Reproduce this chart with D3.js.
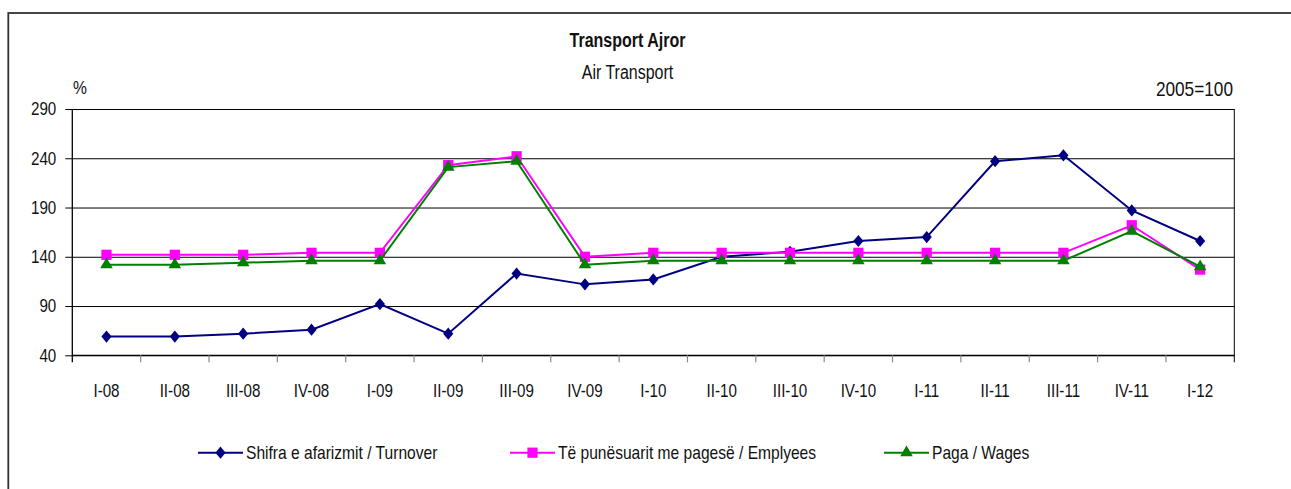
<!DOCTYPE html>
<html><head><meta charset="utf-8">
<script src="https://cdn.jsdelivr.net/npm/d3@7"></script>
<style>body{margin:0;background:#fff}svg{display:block}</style>
</head><body>
<svg id="c" width="1291" height="489"></svg>
<script>
const categories = ["I-08","II-08","III-08","IV-08","I-09","II-09","III-09","IV-09","I-10","II-10","III-10","IV-10","I-11","II-11","III-11","IV-11","I-12"];
const turnover  = [59,59,62,66,92,62,123,112,117,140,145,156,160,237,243,187,156];
const employees = [142,142,142,144,144,233,242,140,144,144,144,144,144,144,144,172,127];
const wages     = [132,132,134,136,136,231,237,132,136,136,136,136,136,136,136,166,130];
const yTicks = [40,90,140,190,240,290];
const seriesNames = ["Shifra e afarizmit / Turnover","Të punësuarit me pagesë / Emplyees","Paga / Wages"];
const seriesColors = ["#000080","#FF00FF","#008000"];
const seriesSymbols = [d3.symbolDiamond2, d3.symbolSquare, d3.symbolTriangle];
const symbolSizes = [66, 105, 68];
const symbolScale = ["scale(1,1.2)", "", ""];

function hasFont(name){
  const c=document.createElement("canvas").getContext("2d");
  c.font="40px monospace"; const a=c.measureText("Transport 290 mmmWW").width;
  c.font="40px '"+name+"', monospace"; const b=c.measureText("Transport 290 mmmWW").width;
  return Math.abs(a-b)>1;
}
const narrow = hasFont("Liberation Sans Narrow") ? "Liberation Sans Narrow" : (hasFont("Arial Narrow") ? "Arial Narrow" : null);
const FONT = narrow ? `'${narrow}'` : "'Liberation Sans', Arial, sans-serif";
function squeeze(sel){
  if (narrow) return;
  sel.each(function(){
    const w=this.getComputedTextLength();
    d3.select(this).attr("textLength", w*0.82).attr("lengthAdjust","spacingAndGlyphs");
  });
}

const svg = d3.select("#c");
const m = {left:72.3, right:1234.3, top:109, bottom:355.3};

// outer border
svg.append("rect").attr("x",8.3).attr("y",13).attr("width",1400).attr("height",600)
  .attr("fill","none").attr("stroke","#333").attr("stroke-width",1.8);

const x = d3.scaleBand().domain(categories).range([m.left,m.right]).padding(0);
const y = d3.scaleLinear().domain([40,290]).range([m.bottom,m.top]);

// gridlines
svg.append("g").attr("transform",`translate(${m.left},0)`)
  .call(d3.axisLeft(y).tickValues(yTicks).tickSize(-(m.right-m.left)).tickFormat(""))
  .call(g=>g.select(".domain").remove())
  .call(g=>g.selectAll("line").attr("stroke","#000").attr("stroke-width",1));

// plot right border
svg.append("line").attr("x1",m.right).attr("x2",m.right).attr("y1",m.top).attr("y2",m.bottom+7)
  .attr("stroke","#000").attr("stroke-width",1);

// y axis
const ya = svg.append("g").attr("transform",`translate(${m.left},0)`)
  .call(d3.axisLeft(y).tickValues(yTicks).tickSize(7).tickPadding(9));
ya.select(".domain").remove();
ya.append("line").attr("x1",0).attr("x2",0).attr("y1",m.top).attr("y2",m.bottom+7).attr("stroke","#000").attr("stroke-width",1.3);
ya.selectAll("line").attr("stroke","#000");
ya.selectAll("text").attr("font-family",FONT).attr("font-size",18.5).attr("fill","#111").call(squeeze);

// x axis
const xa = svg.append("g").attr("transform",`translate(0,${m.bottom})`)
  .call(d3.axisBottom(x).tickSize(0).tickPadding(29));
xa.select(".domain").remove();
xa.append("line").attr("x1",m.left).attr("x2",m.right).attr("y1",0).attr("y2",0).attr("stroke","#000").attr("stroke-width",1.3);
xa.selectAll("text").attr("font-family",FONT).attr("font-size",18.5).attr("fill","#111").call(squeeze);
const bounds = d3.range(categories.length+1).map(i=>x.range()[0]+i*x.step());
xa.selectAll(".bt").data(bounds.slice(1,-1)).join("line").attr("class","bt")
  .attr("x1",d=>d).attr("x2",d=>d).attr("y1",0).attr("y2",7).attr("stroke","#888").attr("stroke-width",1.2);

// series
const allSeries = [turnover, employees, wages];
const line = d3.line().x((d,i)=>x(categories[i])+x.bandwidth()/2).y(d=>y(d));
allSeries.forEach((vals,si)=>{
  const g = svg.append("g");
  g.append("path").datum(vals).attr("d",line).attr("fill","none")
    .attr("stroke",seriesColors[si]).attr("stroke-width",2);
  const sym = d3.symbol().type(seriesSymbols[si]).size(symbolSizes[si]);
  g.selectAll("path.pt").data(vals).join("path").attr("class","pt")
    .attr("transform",(d,i)=>`translate(${x(categories[i])+x.bandwidth()/2},${y(d)}) ${symbolScale[si]}`)
    .attr("d",sym).attr("fill",seriesColors[si]);
});

// titles
svg.append("text").attr("x",627.5).attr("y",46.7).attr("text-anchor","middle")
  .attr("font-family",FONT).attr("font-weight","bold").attr("font-size",19.5).attr("fill","#111")
  .text("Transport Ajror").call(squeeze);
svg.append("text").attr("x",627.5).attr("y",79.3).attr("text-anchor","middle")
  .attr("font-family",FONT).attr("font-size",19.5).attr("fill","#111")
  .text("Air Transport").call(squeeze);
svg.append("text").attr("x",80).attr("y",94).attr("text-anchor","middle")
  .attr("font-family",FONT).attr("font-size",19).attr("fill","#111").text("%").call(squeeze);
svg.append("text").attr("x",1233).attr("y",95.5).attr("text-anchor","end")
  .attr("font-family",FONT).attr("font-size",21).attr("fill","#111").text("2005=100").call(squeeze);

// legend
const legX = [198,510,884];
const legY = 452.7;
seriesNames.forEach((name,si)=>{
  const g = svg.append("g");
  g.append("line").attr("x1",legX[si]).attr("x2",legX[si]+45).attr("y1",legY).attr("y2",legY)
    .attr("stroke",seriesColors[si]).attr("stroke-width",2);
  const sym = d3.symbol().type(seriesSymbols[si]).size(symbolSizes[si]);
  g.append("path").attr("d",sym).attr("fill",seriesColors[si])
    .attr("transform",`translate(${legX[si]+22.5},${legY}) ${symbolScale[si]}`);
  g.append("text").attr("x",legX[si]+48).attr("y",legY+6)
    .attr("font-family",FONT).attr("font-size",19).attr("fill","#111")
    .text(name).call(squeeze);
});
</script>
</body></html>
